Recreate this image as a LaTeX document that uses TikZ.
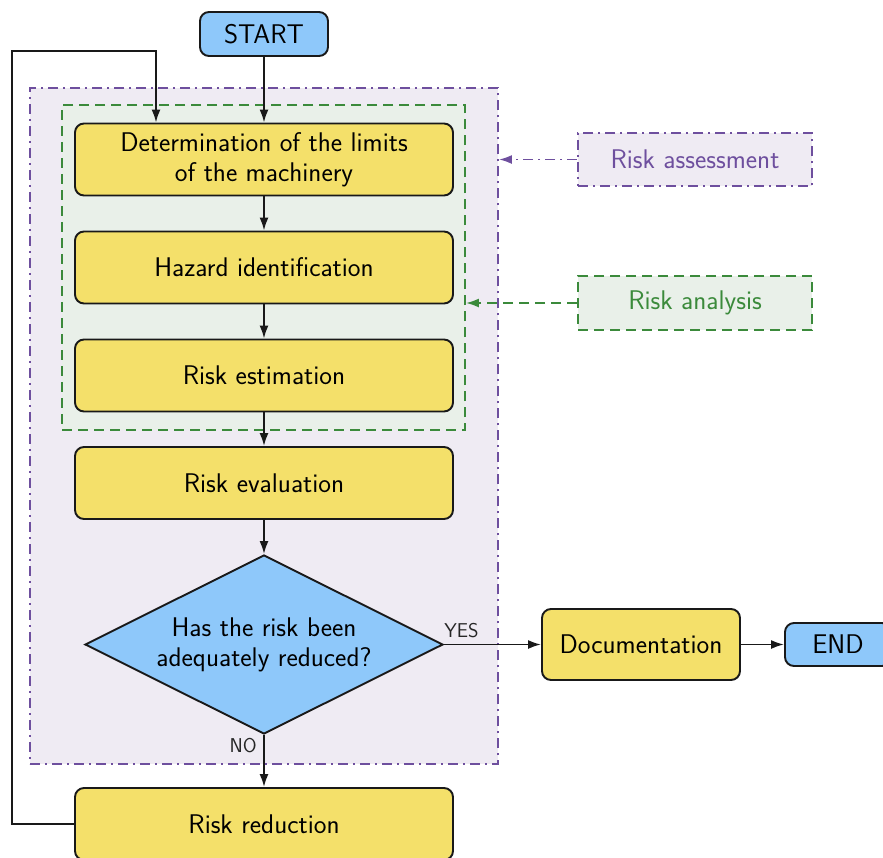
\documentclass[tikz,border=0pt]{standalone}
\usepackage{fontspec}
\usetikzlibrary{arrows.meta,shapes.geometric}
\definecolor{boxyellow}{HTML}{F4E06A}
\definecolor{boxblue}{HTML}{8EC8FA}
\definecolor{assessline}{HTML}{6E4F9E}
\definecolor{assessfill}{HTML}{EFEBF3}
\definecolor{analysisline}{HTML}{3B8A3B}
\definecolor{analysisfill}{HTML}{E9F0E9}
\tikzset{
  base/.style={draw=black!90, line width=1.9pt, font=\sffamily\fontsize{27}{30}\selectfont, align=center, inner sep=0pt},
  stepbox/.style={base, fill=boxyellow, rounded corners=9pt, minimum width=378pt, minimum height=72pt},
  termbox/.style={base, fill=boxblue, rounded corners=9pt, minimum height=44pt},
  decision/.style={base, fill=boxblue, diamond, aspect=2, minimum width=358pt, minimum height=179pt},
  flow/.style={line width=1.9pt, draw=black!90, -{Latex[length=13pt,width=9pt]}},
  assessdash/.style={line width=1.9pt, dash pattern=on 10pt off 5pt on 2pt off 5pt},
  analysisdash/.style={line width=1.9pt, dash pattern=on 10pt off 6pt},
  tag/.style={font=\sffamily\fontsize{20}{22}\selectfont, text=black!85}
}
\begin{document}
\begin{tikzpicture}[x=1pt,y=-1pt]
\useasboundingbox (0,0) rectangle (883,857);
% grouping frames
\node[draw=assessline, fill=assessfill, assessdash, minimum width=468pt, minimum height=676pt, inner sep=0pt] (assessframe) at (264,426) {};
\node[draw=analysisline, fill=analysisfill, analysisdash, minimum width=403pt, minimum height=325pt, inner sep=0pt] (analysisframe) at (263.5,267.5) {};
% process steps
\node[termbox, minimum width=128pt] (start) at (264,34) {START};
\node[stepbox] (limits) at (264,159.5) {Determination of the limits\\of the machinery};
\node[stepbox] (hazard) at (264,267.5) {Hazard identification};
\node[stepbox] (estim) at (264,375.5) {Risk estimation};
\node[stepbox] (evalu) at (264,483) {Risk evaluation};
\node[decision] (check) at (264,644.5) {Has the risk been\\adequately reduced?};
\node[stepbox] (reduce) at (264,824) {Risk reduction};
\node[stepbox, minimum width=198pt, minimum height=71pt] (doc) at (641,644.5) {Documentation};
\node[termbox, minimum width=106pt, minimum height=43pt] (finish) at (838,644.5) {END};
% legend boxes
\node[base, draw=assessline, fill=assessfill, assessdash, text=assessline, minimum width=234pt, minimum height=53pt] (assesslabel) at (695,159.5) {Risk assessment};
\node[base, draw=analysisline, fill=analysisfill, analysisdash, text=analysisline, minimum width=234pt, minimum height=54pt] (analysislabel) at (695,303) {Risk analysis};
% connectors
\draw[flow] (start) -- (limits);
\draw[flow] (limits) -- (hazard);
\draw[flow] (hazard) -- (estim);
\draw[flow] (estim) -- (evalu);
\draw[flow] (evalu) -- (check);
\draw[flow] (check.east) -- node[tag, above=2pt, pos=0.18] {YES} (doc.west);
\draw[flow] (check.south) -- node[tag, left=3pt, pos=0.2] {NO} (reduce.north);
\draw[flow] (doc) -- (finish);
\coordinate (loopa) at (12,824);
\coordinate (loopb) at (12,51);
\coordinate (loopc) at (156,51);
\draw[flow] (reduce.west) -- (loopa) -- (loopb) -- (loopc) -- (loopc |- limits.north);
\draw[assessline, assessdash, -{Latex[length=13pt,width=9pt]}] (assesslabel.west) -- (assesslabel.west -| assessframe.east);
\draw[analysisline, analysisdash, -{Latex[length=13pt,width=9pt]}] (analysislabel.west) -- (analysislabel.west -| analysisframe.east);
\end{tikzpicture}
\end{document}
